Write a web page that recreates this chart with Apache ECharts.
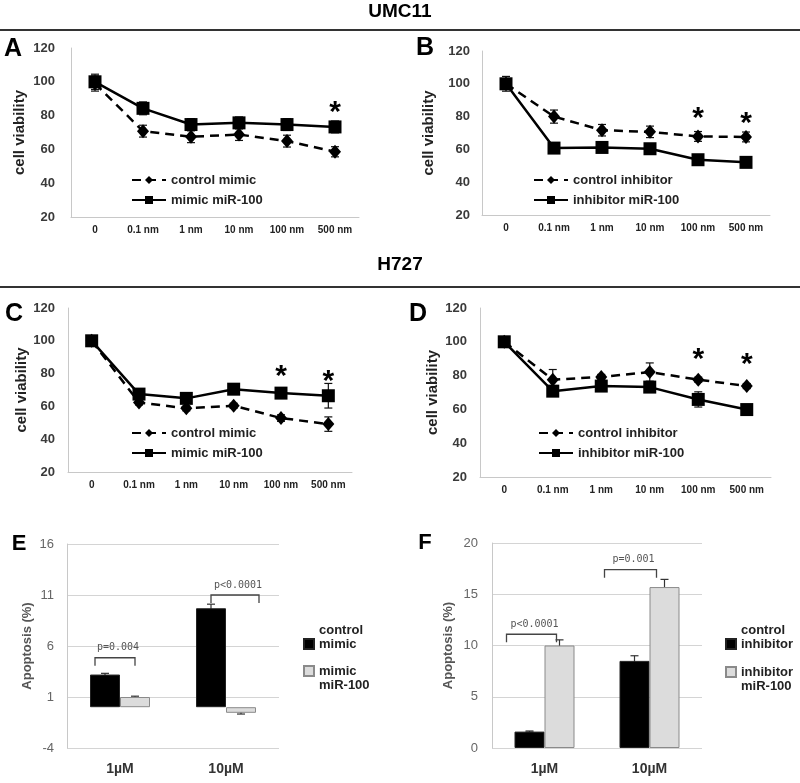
<!DOCTYPE html>
<html><head><meta charset="utf-8">
<script src="https://cdn.jsdelivr.net/npm/echarts@6/dist/echarts.min.js"></script>
<style>html,body{margin:0;padding:0;background:#fff}#c{width:800px;height:783px}</style>
</head><body><div id="c"></div>
<script>
// ---------- data ----------
const doses = ['0', '0.1 nm', '1 nm', '10 nm', '100 nm', '500 nm'];
const viabilityTicks = [20, 120, 20]; // min, max, step

// UMC11 – panel A (mimic)
const umcCtrlMimic     = [99, 70.8, 67.5, 68.8, 64.9, 58.6];
const umcCtrlMimicErr  = [4.5, 3.5, 3.5, 3.5, 3.5, 3];
const umcMimic100      = [100, 84.3, 74.7, 75.7, 74.7, 73.3];
const umcMimic100Err   = [4.5, 3.8, 3.5, 3.5, 3.5, 3.5];
const umcMimicStars    = [[5, 86.5]];
// UMC11 – panel B (inhibitor)
const umcCtrlInh       = [100, 80, 71.7, 70.7, 67.9, 67.6];
const umcCtrlInhErr    = [4.5, 4, 3.5, 3.5, 3, 3];
const umcInh100        = [100, 60.8, 61.2, 60.4, 53.7, 52.1];
const umcInh100Err     = [1, 1, 1, 1, 1, 1];
const umcInhStars      = [[4, 83.4], [5, 80.4]];
// H727 – panel C (mimic)
const h727CtrlMimic    = [100, 62.4, 58.8, 60.4, 52.9, 49.2];
const h727CtrlMimicErr = [1.5, 1.5, 1.5, 1.5, 2, 4.4];
const h727Mimic100     = [100, 67.5, 64.9, 70.5, 68.1, 66.5];
const h727Mimic100Err  = [1.5, 1.5, 1.5, 1.5, 1.5, 7.5];
const h727MimicStars   = [[4, 82.7], [5, 79.7]];
// H727 – panel D (inhibitor)
const h727CtrlInh      = [100, 77.6, 79.2, 82.1, 77.6, 73.8];
const h727CtrlInhErr   = [1, 6, 1.5, 5.4, 1.5, 1.5];
const h727Inh100       = [100, 70.8, 73.8, 73.2, 65.9, 59.9];
const h727Inh100Err    = [1, 1.5, 1.5, 1.5, 4.5, 1.5];
const h727InhStars     = [[4, 94], [5, 90.9]];

// Apoptosis – panels E and F
const concentrations   = ['1µM', '10µM'];
const apoTicksE        = [-4, 16, 5];
const apoTicksF        = [0, 20, 5];
const apoCtrlMimic     = [3.2, 9.7];
const apoCtrlMimicErr  = [0.12, 0.4];
const apoMimic100      = [1.0, -0.55];
const apoMimic100Err   = [0.08, 0.12];
const apoCtrlInh       = [1.6, 8.5];
const apoCtrlInhErr    = [0.06, 0.5];
const apoInh100        = [10.0, 15.7];
const apoInh100Err     = [0.55, 0.75];
const bracketsE        = [[0, 4.85, 'p=0.004'], [1, 11.0, 'p<0.0001']];
const bracketsF        = [[0, 11.1, 'p<0.0001'], [1, 17.4, 'p=0.001']];

// ---------- layout / style ----------
const FONT = 'Liberation Sans';
const BAR_W = 30;
const bracketSpanE = [[-25, 15], [-15, 33]];
const bracketSpanF = [[-38, 12], [-45, 7]];

const grids = [
  {left: 71,  top: 48,  width: 288, height: 169},
  {left: 482, top: 51,  width: 288, height: 164},
  {left: 68,  top: 308, width: 284, height: 164},
  {left: 480, top: 308, width: 291, height: 169},
  {left: 67,  top: 544, width: 212, height: 204},
  {left: 492, top: 543, width: 210, height: 205}
];
const nameGaps = [44, 46, 37, 40, 33, 37];
const yLabelMargins = [16, 12, 13, 13, 13, 14];

const xAxes = [], yAxes = [];
for (let i = 0; i < 4; i++) {
  xAxes.push({
    type: 'category', gridIndex: i, data: doses,
    axisLine: {lineStyle: {color: '#c8c8c8', width: 1}},
    axisTick: {show: false},
    axisLabel: {fontSize: 10, fontWeight: 'bold', color: '#222', margin: 8, interval: 0}
  });
  yAxes.push({
    type: 'value', gridIndex: i,
    min: viabilityTicks[0], max: viabilityTicks[1], interval: viabilityTicks[2],
    name: 'cell viability', nameLocation: 'middle', nameGap: nameGaps[i],
    nameTextStyle: {fontSize: 15, fontWeight: 'bold', color: '#222'},
    axisLine: {show: true, lineStyle: {color: '#c8c8c8', width: 1}},
    axisTick: {show: false}, splitLine: {show: false},
    axisLabel: {fontSize: 13, fontWeight: 'bold', color: '#3a3a3a', margin: yLabelMargins[i]}
  });
}
[[4, apoTicksE], [5, apoTicksF]].forEach(([i, t]) => {
  xAxes.push({
    type: 'category', gridIndex: i, data: concentrations,
    axisLine: {show: false}, axisTick: {show: false},
    axisLabel: {fontSize: 14, fontWeight: 'bold', color: '#333', margin: 14}
  });
  yAxes.push({
    type: 'value', gridIndex: i, min: t[0], max: t[1], interval: t[2],
    name: 'Apoptosis (%)', nameLocation: 'middle', nameGap: nameGaps[i],
    nameTextStyle: {fontSize: 13, fontWeight: 'bold', color: '#555'},
    axisLine: {show: true, lineStyle: {color: '#c8c8c8'}},
    axisTick: {show: false},
    splitLine: {show: true, lineStyle: {color: '#d4d4d4'}},
    axisLabel: {fontSize: 13, color: '#666', margin: yLabelMargins[i]}
  });
});

function lineSeries(name, data, g, dashed) {
  return {
    type: 'line', name, data, xAxisIndex: g, yAxisIndex: g,
    symbol: dashed ? 'diamond' : 'rect',
    symbolSize: dashed ? [12, 14] : 13,
    lineStyle: {color: '#000', width: 2.5, type: dashed ? [9, 6] : 'solid'},
    itemStyle: {color: '#000'},
    z: 3, animation: false
  };
}
function errData(vals, errs, side) {
  return vals.map((v, i) => [i, v, errs[i], side || 0]);
}
function errSeries(vals, errs, g, side, color) {
  return {
    type: 'custom', xAxisIndex: g, yAxisIndex: g, z: 2, silent: true, animation: false,
    data: errData(vals, errs, side),
    renderItem: function (params, api) {
      const x = api.value(0), y = api.value(1), e = api.value(2), s = api.value(3);
      const hi = api.coord([x, y + e]), lo = api.coord([x, y - e]);
      const dx = s * BAR_W / 2;
      const cx = hi[0] + dx, cap = 4;
      const st = {stroke: color || '#111', lineWidth: 1.2};
      return {type: 'group', children: [
        {type: 'line', shape: {x1: cx, y1: hi[1], x2: cx, y2: lo[1]}, style: st},
        {type: 'line', shape: {x1: cx - cap, y1: hi[1], x2: cx + cap, y2: hi[1]}, style: st},
        {type: 'line', shape: {x1: cx - cap, y1: lo[1], x2: cx + cap, y2: lo[1]}, style: st}
      ]};
    }
  };
}
function starSeries(stars, g) {
  return {
    type: 'custom', xAxisIndex: g, yAxisIndex: g, z: 4, silent: true, animation: false,
    data: stars,
    renderItem: function (params, api) {
      const p = api.coord([api.value(0), api.value(1)]);
      return {type: 'text', x: p[0], y: p[1] + 8,
        style: {text: '*', textAlign: 'center', textVerticalAlign: 'middle',
          font: 'bold 30px ' + FONT, fill: '#000'}};
    }
  };
}
function barSeries(name, data, g, dark) {
  return {
    type: 'bar', name, data, xAxisIndex: g, yAxisIndex: g,
    barWidth: BAR_W, barGap: '0%', animation: false, z: 2,
    itemStyle: dark ? {color: '#000', borderColor: '#222', borderWidth: 1}
                    : {color: '#dcdcdc', borderColor: '#8a8a8a', borderWidth: 1}
  };
}
function bracketSeries(br, spans, g) {
  return {
    type: 'custom', xAxisIndex: g, yAxisIndex: g, z: 5, silent: true, animation: false,
    data: br,
    renderItem: function (params, api) {
      const idx = params.dataIndex;
      const p = api.coord([api.value(0), api.value(1)]);
      const x1 = p[0] + spans[idx][0], x2 = p[0] + spans[idx][1], y = p[1], leg = 8;
      const st = {stroke: '#444', lineWidth: 1.3, fill: null};
      return {type: 'group', children: [
        {type: 'polyline', shape: {points: [[x1, y + leg], [x1, y], [x2, y], [x2, y + leg]]}, style: st},
        {type: 'text', x: (x1 + x2) / 2 + 3, y: y - 10,
          style: {text: br[idx][2], textAlign: 'center', textVerticalAlign: 'middle',
            font: '10px DejaVu Sans Mono', fill: '#555'}}
      ]};
    }
  };
}

const series = [
  lineSeries('control mimic', umcCtrlMimic, 0, true),
  lineSeries('mimic miR-100', umcMimic100, 0, false),
  errSeries(umcCtrlMimic, umcCtrlMimicErr, 0),
  errSeries(umcMimic100, umcMimic100Err, 0),
  starSeries(umcMimicStars, 0),

  lineSeries('control inhibitor', umcCtrlInh, 1, true),
  lineSeries('inhibitor miR-100', umcInh100, 1, false),
  errSeries(umcCtrlInh, umcCtrlInhErr, 1),
  errSeries(umcInh100, umcInh100Err, 1),
  starSeries(umcInhStars, 1),

  lineSeries('control mimic', h727CtrlMimic, 2, true),
  lineSeries('mimic miR-100', h727Mimic100, 2, false),
  errSeries(h727CtrlMimic, h727CtrlMimicErr, 2),
  errSeries(h727Mimic100, h727Mimic100Err, 2),
  starSeries(h727MimicStars, 2),

  lineSeries('control inhibitor', h727CtrlInh, 3, true),
  lineSeries('inhibitor miR-100', h727Inh100, 3, false),
  errSeries(h727CtrlInh, h727CtrlInhErr, 3),
  errSeries(h727Inh100, h727Inh100Err, 3),
  starSeries(h727InhStars, 3),

  barSeries('control  mimic', apoCtrlMimic, 4, true),
  barSeries('mimic  miR-100', apoMimic100, 4, false),
  errSeries(apoCtrlMimic, apoCtrlMimicErr, 4, -1, '#333'),
  errSeries(apoMimic100, apoMimic100Err, 4, 1, '#333'),
  bracketSeries(bracketsE, bracketSpanE, 4),

  barSeries('control  inhibitor', apoCtrlInh, 5, true),
  barSeries('inhibitor  miR-100', apoInh100, 5, false),
  errSeries(apoCtrlInh, apoCtrlInhErr, 5, -1, '#333'),
  errSeries(apoInh100, apoInh100Err, 5, 1, '#333'),
  bracketSeries(bracketsF, bracketSpanF, 5)
];

const lineLegendText = {fontSize: 13, fontWeight: 'bold', color: '#222', lineHeight: 14};
function lineLegend(names, left, top) {
  return {data: names, left, top, orient: 'vertical', itemWidth: 34, itemHeight: 10,
    itemGap: 6, textStyle: lineLegendText, selectedMode: false, padding: 0};
}
const barLegendText = {fontSize: 13, fontWeight: 'bold', color: '#222', lineHeight: 14};
function barLegend(name, text, left, top) {
  return {data: [{name, icon: 'rect'}], left, top, orient: 'vertical', itemWidth: 10, itemHeight: 10,
    icon: 'rect', textStyle: barLegendText, selectedMode: false, padding: 0, formatter: () => text};
}

const legends = [
  lineLegend(['control mimic', 'mimic miR-100'], 131, 173),
  lineLegend(['control inhibitor', 'inhibitor miR-100'], 533, 173),
  lineLegend(['control mimic', 'mimic miR-100'], 131, 426),
  lineLegend(['control inhibitor', 'inhibitor miR-100'], 538, 426),
  barLegend('control  mimic', 'control\nmimic\n ', 303, 623),
  barLegend('mimic  miR-100', ' \nmimic\nmiR-100', 303, 650),
  barLegend('control  inhibitor', 'control\ninhibitor\n ', 725, 623),
  barLegend('inhibitor  miR-100', ' \ninhibitor\nmiR-100', 725, 651)
];

function label(text, x, y, size) {
  return {type: 'text', x, y, style: {text, textAlign: 'center', textVerticalAlign: 'middle',
    font: 'bold ' + size + 'px ' + FONT, fill: '#000'}};
}
const graphics = [
  label('UMC11', 400, 12, 19),
  {type: 'line', shape: {x1: 0, y1: 30, x2: 800, y2: 30}, style: {stroke: '#333', lineWidth: 2}},
  label('H727', 400, 265, 19),
  {type: 'line', shape: {x1: 0, y1: 287, x2: 800, y2: 287}, style: {stroke: '#333', lineWidth: 2}},
  label('A', 13, 49, 25), label('B', 425, 48, 25),
  label('C', 14, 314, 25), label('D', 418, 314, 25),
  label('E', 19, 544, 22), label('F', 425, 543, 22)
];

const chart = echarts.init(document.getElementById('c'), null, {renderer: 'canvas'});
chart.setOption({
  animation: false,
  backgroundColor: '#fff',
  textStyle: {fontFamily: FONT},
  grid: grids,
  xAxis: xAxes,
  yAxis: yAxes,
  legend: legends,
  series: series,
  graphic: graphics
});
</script>
</body></html>
